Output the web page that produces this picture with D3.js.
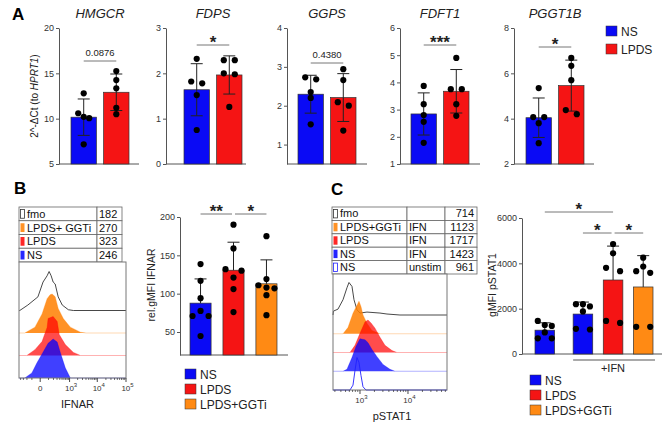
<!DOCTYPE html>
<html>
<head>
<meta charset="utf-8">
<script src="https://cdn.jsdelivr.net/npm/d3@7"></script>
<style>
  body { margin: 0; background: #fff; }
</style>
</head>
<body>
<script>
// ---------- data ----------
// panel A: qPCR, 2^-dCt relative to HPRT1, one dot per donor
var genes = ["HMGCR", "FDPS", "GGPS", "FDFT1", "PGGT1B"];
var groupsA = ["NS", "LPDS"];
var nsA = [
    [12.8, 10.6, 10.2, 10.05, 7.17],
    [2.32, 1.78, 1.82, 1.52, 0.75],
    [2.73, 2.68, 2.35, 2.2, 1.52],
    [3.87, 3.2, 2.8, 2.55, 1.78],
    [5.35, 4.07, 4.07, 3.8, 2.92]
];
var lpdsA = [
    [15.25, 14.26, 13.35, 11.2, 10.5],
    [2.29, 2.29, 2.0, 1.98, 1.26],
    [2.94, 2.66, 2.09, 2.0, 1.36],
    [4.9, 3.75, 3.75, 3.2, 2.77],
    [6.68, 6.33, 5.7, 4.38, 4.2]
];
var geneDomains = [[5, 20], [0, 3], [0.5, 4], [1, 6], [2, 8]];
var geneTicks = [[5, 10, 15, 20], [0, 1, 2, 3], [1, 2, 3, 4], [1, 2, 3, 4, 5, 6], [2, 4, 6, 8]];
var geneSig = ["0.0876", "*", "0.4380", "***", "*"];

// panel B: IFNAR
var ifnarSamples = ["fmo", "LPDS+ GGTi", "LPDS", "NS"];
var ifnarMFI = [182, 270, 323, 246];
// histogram outlines: [fluorescence, % of mode]
var ifnarFmo = [[-436, 0], [-178, 14], [-21, 35], [27, 73], [78, 89], [110, 100], [148, 89], [192, 73], [244, 68], [340, 35], [511, 14], [896, 2], [1393, 0]];
var ifnarGGTi = [[-256, 0], [-55, 15], [17, 49], [78, 88], [128, 98], [169, 100], [244, 93], [340, 63], [563, 37], [1071, 15], [2534, 2], [4000, 0]];
var ifnarLPDS = [[-202, 0], [-55, 15], [17, 36], [78, 72], [93, 95], [192, 100], [306, 87], [378, 54], [680, 28], [1393, 8], [2534, 0]];
var ifnarNS = [[-256, 0], [-100, 13], [-31, 39], [27, 66], [93, 89], [192, 100], [306, 92], [419, 66], [680, 26], [1071, 0]];
var groupsB = ["NS", "LPDS", "LPDS+GGTi"];
var ifnarDots = [
    [138.6, 116.8, 94.1, 77.5, 70.9, 70.9, 44.8],
    [190, 159, 132, 130, 121, 106, 76],
    [175, 119, 111, 108, 107, 98, 72]
];
var ifnarSig = ["**", "*"];

// panel C: pSTAT1
var pstatSamples = ["fmo", "LPDS+GGTi", "LPDS", "NS", "NS"];
var pstatStim = ["", "IFN", "IFN", "IFN", "unstim"];
var pstatMFI = [714, 1123, 1717, 1423, 961];
var pstatFmo = [[280, 12], [348, 18], [443, 47], [536, 84], [590, 100], [681, 88], [750, 47], [866, 16], [1000, 6], [1399, 9], [2610, 6], [3650, 3], [6800, 0]];
var pstatGGTi = [[443, 0], [562, 19], [715, 63], [866, 88], [953, 100], [1049, 84], [1155, 58], [1399, 32], [1778, 10], [2610, 0]];
var pstatLPDS = [[619, 0], [787, 22], [1000, 59], [1271, 94], [1468, 100], [1697, 91], [2054, 75], [2610, 47], [3314, 22], [4642, 6], [5900, 0]];
var pstatNS = [[443, 0], [536, 6], [681, 42], [825, 76], [1000, 100], [1271, 97], [1468, 88], [1778, 67], [2260, 45], [3014, 21], [4217, 6], [5360, 0]];
var pstatUnstim = [[619, 0], [715, 15], [787, 60], [866, 100], [953, 85], [1049, 45], [1155, 10], [1333, 0]];
var groupsC = ["NS unstim", "NS", "LPDS", "LPDS+GGTi"];
var pstatDots = [
    [1460, 1280, 1240, 950, 690, 690],
    [2200, 2200, 2100, 1880, 1110, 1080],
    [4854, 4443, 3802, 3654, 1461, 1373],
    [4250, 3860, 3654, 3582, 1198, 1198]
];

// ---------- styles ----------
var FONT = "'Liberation Sans', Arial, sans-serif";
var BLUE = "#0a0af5", RED = "#f51414", ORANGE = "#ff8a14";
var AXIS = "#555", INK = "#222";

var svg = d3.select("body").append("svg")
    .attr("width", 669)
    .attr("height", 431)
    .style("font-family", FONT);

// place dots of one group: near-equal heights are spread sideways
function spreadDots(vals, y, d) {
    var pts = vals.map(v => ({v: v, py: y(v), dx: 0})).sort((a, b) => a.py - b.py);
    var run = [];
    var flush = function() {
        var n = run.length;
        run.forEach((p, i) => { p.dx = n === 2 ? (i ? d : -d) : (i - (n - 1) / 2) * d; });
        run = [];
    };
    pts.forEach(p => {
        if (run.length && p.py - run[run.length - 1].py > 4.5) flush();
        run.push(p);
    });
    flush();
    return pts;
}

function drawBars(g, x, y, names, sets, colors, o) {
    names.forEach((name, i) => {
        var vals = sets[i], m = d3.mean(vals), sd = d3.deviation(vals);
        var bx = x(name) + (o.shift ? o.shift(i) : 0), bw = x.bandwidth(), cx = bx + bw / 2;
        g.append("rect")
            .attr("x", bx).attr("y", y(m))
            .attr("width", bw).attr("height", o.base - y(m))
            .attr("fill", colors[i]).attr("stroke", "#333").attr("stroke-width", 0.7);
        g.append("line")
            .attr("x1", cx).attr("x2", cx)
            .attr("y1", y(o.both ? m - sd : m)).attr("y2", y(m + sd))
            .attr("stroke", INK).attr("stroke-width", 1);
        (o.both ? [m - sd, m + sd] : [m + sd]).forEach(c => {
            g.append("line")
                .attr("x1", cx - o.cap).attr("x2", cx + o.cap)
                .attr("y1", y(c)).attr("y2", y(c))
                .attr("stroke", INK).attr("stroke-width", 1);
        });
        spreadDots(vals, y, o.d).forEach(p => {
            g.append("circle").attr("cx", cx + p.dx).attr("cy", p.py).attr("r", o.r).attr("fill", "#000");
        });
    });
}

function sigBar(g, x1, x2, yy, label) {
    g.append("line")
        .attr("x1", x1).attr("x2", x2).attr("y1", yy).attr("y2", yy)
        .attr("stroke", "#777").attr("stroke-width", 1);
    var star = label.indexOf("*") >= 0;
    g.append("text")
        .attr("x", (x1 + x2) / 2)
        .attr("y", star ? yy + 3 : yy - 5)
        .attr("text-anchor", "middle")
        .attr("font-size", star ? 17 : 9.5)
        .attr("font-weight", star ? "bold" : "normal")
        .attr("fill", INK)
        .text(label);
}

function styleAxis(sel) {
    sel.selectAll("path, line").attr("stroke", AXIS);
    sel.selectAll("text").attr("font-size", 9).attr("fill", "#333").attr("font-family", FONT);
}

function legend(g, x0, y0, step, names, colors, size) {
    names.forEach((n, i) => {
        g.append("rect").attr("x", x0).attr("y", y0 + i * step)
            .attr("width", size + 1).attr("height", size)
            .attr("fill", colors[i]).attr("stroke", "#333").attr("stroke-width", 0.5);
        g.append("text").attr("x", x0 + size + 5).attr("y", y0 + i * step + size - 0.5)
            .attr("font-size", size + 2).attr("fill", INK).text(n);
    });
}

function panelLetter(x, y, t) {
    svg.append("text").attr("x", x).attr("y", y).attr("font-size", 17).attr("font-weight", "bold").text(t);
}

// ---------- panel A ----------
panelLetter(12, 20, "A");
var aTop = 28, aBottom = 164;
var geneAxisX = [59, 166, 287, 400, 514];
var geneBarOffset = [12, 18, 11, 11, 12];
var geneSigY = [61, 45, 63, 45, 47];

genes.forEach((gene, gi) => {
    var x0 = geneAxisX[gi];
    var y = d3.scaleLinear().domain(geneDomains[gi]).range([aBottom, aTop]);
    var x = d3.scaleBand().domain(groupsA)
        .range([x0 + geneBarOffset[gi], x0 + geneBarOffset[gi] + 58])
        .paddingInner(0.22);
    var g = svg.append("g");

    g.append("g")
        .attr("transform", "translate(" + x0 + ",0)")
        .call(d3.axisLeft(y).tickValues(geneTicks[gi]).tickFormat(d3.format("~g"))
            .tickSize(3).tickSizeOuter(0).tickPadding(2))
        .call(styleAxis);
    g.append("line")
        .attr("x1", x0).attr("x2", x0 + 80).attr("y1", aBottom).attr("y2", aBottom)
        .attr("stroke", AXIS);

    drawBars(g, x, y, groupsA, [nsA[gi], lpdsA[gi]], [BLUE, RED],
        {base: aBottom, both: true, cap: 6, r: 3.1, d: 5.5});

    var c0 = x("NS") + x.bandwidth() / 2, c1 = x("LPDS") + x.bandwidth() / 2;
    g.append("text")
        .attr("x", (c0 + c1) / 2).attr("y", 18)
        .attr("text-anchor", "middle").attr("font-size", 13).attr("font-style", "italic")
        .attr("fill", INK).text(gene);
    sigBar(g, c0, c1, geneSigY[gi], geneSig[gi]);
});

var yLabA = svg.append("text")
    .attr("transform", "translate(38,96) rotate(-90)")
    .attr("text-anchor", "middle").attr("font-size", 10).attr("fill", INK);
yLabA.append("tspan").text("2^-\u0394Ct (to ");
yLabA.append("tspan").attr("font-style", "italic").text("HPRT1");
yLabA.append("tspan").text(")");

legend(svg, 606, 26, 18, ["NS", "LPDS"], [BLUE, RED], 10);

// ---------- flow histograms ----------
function histPanel(cfg) {
    var g = svg.append("g");
    var x = cfg.x;
    var dom = x.domain();
    var n = cfg.curves.length;
    var step = (cfg.boxBottom - cfg.firstBase) / (n - 1);

    // table above the histogram
    var rowH = (cfg.tableBottom - cfg.tableTop) / cfg.rows.length;
    cfg.rows.forEach((row, i) => {
        var ty = cfg.tableTop + i * rowH;
        cfg.cols.forEach((c, k) => {
            g.append("rect").attr("x", c[0]).attr("y", ty)
                .attr("width", c[1] - c[0]).attr("height", rowH)
                .attr("fill", "#fff").attr("stroke", "#666").attr("stroke-width", 0.8);
            var txt = row[k];
            if (txt === "") return;
            var right = cfg.rightAlign && k === cfg.cols.length - 1;
            g.append("text")
                .attr("x", right ? c[1] - 3 : c[0] + (k === 0 ? 8 : 2))
                .attr("y", ty + rowH - 3)
                .attr("text-anchor", right ? "end" : "start")
                .attr("font-size", 11).attr("fill", "#111").text(txt);
        });
        var st = cfg.styles[i];
        g.append("rect").attr("x", cfg.cols[0][0] + 1.5).attr("y", ty + 2.5)
            .attr("width", 4).attr("height", rowH - 5)
            .attr("fill", st.fill ? st.color : "#fff")
            .attr("fill-opacity", st.fill ? 0.85 : 1)
            .attr("stroke", st.fill ? "none" : st.color).attr("stroke-width", 0.8);
    });

    // histogram box
    g.append("rect").attr("x", cfg.boxLeft).attr("y", cfg.boxTop)
        .attr("width", cfg.boxRight - cfg.boxLeft).attr("height", cfg.boxBottom - cfg.boxTop)
        .attr("fill", "#fff");

    cfg.curves.forEach((pts, i) => {
        var base = cfg.firstBase + i * step;
        var h = d3.scaleLinear().domain([0, 100]).range([base, base - cfg.peak]);
        var full = [[dom[0], 0]].concat(pts, [[dom[1], 0]]);
        var st = cfg.styles[i];
        if (st.fill) {
            g.append("path").datum(full)
                .attr("d", d3.area().x(d => x(d[0])).y0(base).y1(d => h(d[1])))
                .attr("fill", st.color).attr("fill-opacity", st.alpha);
            g.append("path").datum(full)
                .attr("d", d3.line().x(d => x(d[0])).y(d => h(d[1])))
                .attr("fill", "none").attr("stroke", st.color).attr("stroke-opacity", 0.3).attr("stroke-width", 1);
        } else {
            g.append("path").datum(full)
                .attr("d", d3.line().x(d => x(d[0])).y(d => h(d[1])))
                .attr("fill", "none").attr("stroke", st.color).attr("stroke-width", 0.9);
        }
    });

    g.append("rect").attr("x", cfg.boxLeft).attr("y", cfg.boxTop)
        .attr("width", cfg.boxRight - cfg.boxLeft).attr("height", cfg.boxBottom - cfg.boxTop)
        .attr("fill", "none").attr("stroke", "#777").attr("stroke-width", 1);

    // axis ticks
    cfg.minor.forEach(v => {
        g.append("line").attr("x1", x(v)).attr("x2", x(v))
            .attr("y1", cfg.boxBottom).attr("y2", cfg.boxBottom + 2).attr("stroke", "#333").attr("stroke-width", 0.7);
    });
    cfg.major.forEach(v => {
        g.append("line").attr("x1", x(v)).attr("x2", x(v))
            .attr("y1", cfg.boxBottom).attr("y2", cfg.boxBottom + 4).attr("stroke", "#333").attr("stroke-width", 0.9);
        var t = g.append("text").attr("x", x(v) + (v === 0 ? 0 : 1.5)).attr("y", cfg.boxBottom + 13)
            .attr("text-anchor", "middle").attr("font-size", 8).attr("fill", "#333");
        if (v === 0) {
            t.text("0");
        } else {
            t.append("tspan").text("10");
            t.append("tspan").attr("dy", -4).attr("font-size", 6).text(Math.round(Math.log10(v)));
        }
    });
    g.append("text").attr("x", (cfg.boxLeft + cfg.boxRight) / 2 + cfg.labelShift).attr("y", cfg.boxBottom + 30)
        .attr("text-anchor", "middle").attr("font-size", 11).attr("fill", INK).text(cfg.label);
}

// ---------- panel B ----------
panelLetter(14, 194, "B");
var xIfnar = d3.scaleSymlog().constant(106).domain([-470, 1e5]).range([19, 126]);
histPanel({
    x: xIfnar,
    curves: [ifnarFmo, ifnarGGTi, ifnarLPDS, ifnarNS],
    styles: [
        {fill: false, color: "#333"},
        {fill: true, color: "#ff7f00", alpha: 0.85},
        {fill: true, color: "#ff0000", alpha: 0.7},
        {fill: true, color: "#0000ff", alpha: 0.75}
    ],
    rows: ifnarSamples.map((s, i) => [s, String(ifnarMFI[i])]),
    cols: [[19, 97], [97, 122]],
    tableTop: 207, tableBottom: 262,
    boxLeft: 19, boxRight: 126, boxTop: 262, boxBottom: 378,
    firstBase: 310.5, peak: 39,
    major: [0, 1e3, 1e4, 1e5],
    minor: [-400, -300, -200, -100, 100, 200, 300, 400, 500, 600, 700, 800, 900]
        .concat(d3.range(2e3, 1e4, 1e3), d3.range(2e4, 1e5, 1e4)),
    label: "IFNAR", labelShift: 5
});

var gB = svg.append("g");
var yB = d3.scaleLinear().domain([20, 200]).range([355, 217]);
var xB = d3.scaleBand().domain(groupsB).range([190, 277]).paddingInner(0.36);
gB.append("g").attr("transform", "translate(180,0)")
    .call(d3.axisLeft(yB).tickValues([50, 100, 150, 200]).tickSize(3).tickSizeOuter(0).tickPadding(2))
    .call(styleAxis);
gB.append("line").attr("x1", 180).attr("x2", 288).attr("y1", 355).attr("y2", 355).attr("stroke", AXIS);
drawBars(gB, xB, yB, groupsB, ifnarDots, [BLUE, RED, ORANGE], {base: 355, both: false, cap: 6, r: 3.1, d: 8});
var cB = groupsB.map(n => xB(n) + xB.bandwidth() / 2);
sigBar(gB, cB[0], cB[1] - 1.5, 214, ifnarSig[0]);
sigBar(gB, cB[1] + 1.5, cB[2], 214, ifnarSig[1]);
gB.append("text").attr("transform", "translate(155,285) rotate(-90)")
    .attr("text-anchor", "middle").attr("font-size", 10.5).attr("fill", INK).text("rel.gMFI IFNAR");
legend(gB, 185, 369, 15, groupsB, [BLUE, RED, ORANGE], 10);

// ---------- panel C ----------
panelLetter(331, 195, "C");
var xPstat = d3.scaleLog().domain([274, 65000]).range([333, 447]);
histPanel({
    x: xPstat,
    curves: [pstatFmo, pstatGGTi, pstatLPDS, pstatNS, pstatUnstim],
    styles: [
        {fill: false, color: "#333"},
        {fill: true, color: "#ff7f00", alpha: 0.85},
        {fill: true, color: "#ff0000", alpha: 0.7},
        {fill: true, color: "#0000ff", alpha: 0.75},
        {fill: false, color: "#2020ff"}
    ],
    rows: pstatSamples.map((s, i) => [s, pstatStim[i], String(pstatMFI[i])]),
    cols: [[332, 407], [407, 445], [445, 477]],
    rightAlign: true,
    tableTop: 207, tableBottom: 274,
    boxLeft: 333, boxRight: 447, boxTop: 274, boxBottom: 390,
    firstBase: 315, peak: 32.5,
    major: [1e3, 1e4],
    minor: d3.range(300, 1000, 100).concat(d3.range(2e3, 1e4, 1e3), d3.range(2e4, 7e4, 1e4)),
    label: "pSTAT1", labelShift: 2
});

var gC = svg.append("g");
var yC = d3.scaleLinear().domain([0, 6000]).range([354, 218]);
var xC = d3.scaleBand().domain(groupsC).range([535, 645]).paddingInner(0.35);
var gapC = i => (i > 0 ? 8 : 0);
gC.append("g").attr("transform", "translate(522,0)")
    .call(d3.axisLeft(yC).tickValues([0, 2000, 4000, 6000]).tickFormat(d3.format("d")).tickSize(3).tickSizeOuter(0).tickPadding(2))
    .call(styleAxis);
gC.append("line").attr("x1", 522).attr("x2", 662).attr("y1", 354).attr("y2", 354).attr("stroke", AXIS);
drawBars(gC, xC, yC, groupsC, pstatDots, [BLUE, BLUE, RED, ORANGE], {base: 354, both: false, cap: 6, r: 3.1, d: 7, shift: gapC});
var cC = groupsC.map((n, i) => xC(n) + gapC(i) + xC.bandwidth() / 2);
sigBar(gC, cC[0], cC[2], 212, "*");
sigBar(gC, cC[1], cC[2] - 1.5, 233, "*");
sigBar(gC, cC[2] + 1.5, cC[3], 233, "*");
gC.append("line").attr("x1", xC(groupsC[1]) + gapC(1)).attr("x2", 655).attr("y1", 360).attr("y2", 360).attr("stroke", AXIS);
gC.append("text").attr("x", 613).attr("y", 372).attr("text-anchor", "middle")
    .attr("font-size", 11).attr("fill", INK).text("+IFN");
gC.append("text").attr("transform", "translate(496,285) rotate(-90)")
    .attr("text-anchor", "middle").attr("font-size", 10.5).attr("fill", INK).text("gMFI pSTAT1");
legend(gC, 530, 375, 15, ["NS", "LPDS", "LPDS+GGTi"], [BLUE, RED, ORANGE], 10);
</script>
</body>
</html>
